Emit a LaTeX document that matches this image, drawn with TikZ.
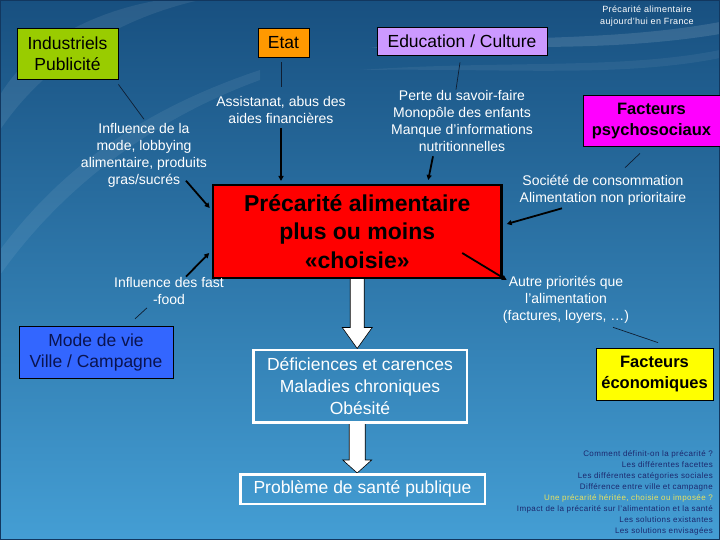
\documentclass[tikz,border=0pt]{standalone}
\usepackage{fontspec}
\setmainfont{Liberation Sans}
\usetikzlibrary{arrows.meta,calc}
\definecolor{bgtop}{RGB}{24,80,128}
\definecolor{bgmid}{RGB}{44,122,178}
\definecolor{bgbot}{RGB}{68,158,212}
\definecolor{frameclr}{RGB}{18,55,95}
\definecolor{green1}{RGB}{153,204,0}
\definecolor{orange1}{RGB}{255,153,0}
\definecolor{lav}{RGB}{204,153,255}
\definecolor{mag}{RGB}{255,0,255}
\definecolor{blue1}{RGB}{51,102,255}
\definecolor{yel1}{RGB}{255,255,0}
\definecolor{navy}{RGB}{10,20,80}
\definecolor{listnavy}{RGB}{28,40,110}
\definecolor{listyel}{RGB}{232,226,96}
\definecolor{lineclr}{RGB}{15,30,50}
\pgfdeclarelayer{back}
\pgfdeclarelayer{mid}
\pgfsetlayers{back,mid,main}
\begin{document}
\begin{tikzpicture}[x=1pt,y=-1pt,
  box/.style={draw=black,line width=0.8pt,align=center,inner sep=0pt,text=black,font=\fontsize{17.5}{21}\selectfont},
  boldbox/.style={box,font=\bfseries\fontsize{16.5}{21.5}\selectfont},
  wtext/.style={text=white,align=center,inner sep=0pt,font=\fontsize{14}{17}\selectfont},
  wbox/.style={draw=white,line width=2.5pt,align=center,inner sep=0pt,text=white,font=\fontsize{17.5}{22}\selectfont},
  thinline/.style={draw=lineclr,line width=0.7pt},
  thickarrow/.style={draw=black,line width=1.8pt,-{Triangle[length=5pt,width=5pt]}},
  blockarrow/.style={fill=white,draw=black,line width=0.6pt,line join=miter},
]
\path[use as bounding box] (0,0) rectangle (720,540);
\begin{pgfonlayer}{back}
  \shade[top color=bgtop,middle color=bgmid,bottom color=bgbot] (0,0) rectangle (720,540);
  \fill[white,opacity=0.08] (0,95) .. controls (30,45) and (90,12) .. (160,0) -- (200,0) .. controls (110,20) and (40,70) .. (0,130) -- cycle;
  \fill[white,opacity=0.07] (0,250) .. controls (60,170) and (140,110) .. (260,70) -- (260,80) .. controls (150,120) and (60,190) .. (0,275) -- cycle;
  \fill[white,opacity=0.12] (370,48) .. controls (480,34) and (600,44) .. (720,22) -- (720,34) .. controls (600,54) and (480,44) .. (370,48) -- cycle;
  \fill[white,opacity=0.06] (360,70) .. controls (500,60) and (620,70) .. (720,50) -- (720,58) .. controls (620,78) and (500,68) .. (360,70) -- cycle;
  \draw[frameclr,line width=2pt] (0,0) rectangle (720,540);
\end{pgfonlayer}

% title
\node[text=white,align=center,inner sep=0pt,font=\fontsize{9}{12.4}\selectfont\addfontfeature{LetterSpace=4}] (title) at (647,16) {Précarité alimentaire\\aujourd'hui en France};

% coloured boxes
\node[box,fill=green1,minimum width=101pt,minimum height=51pt] (indus) at (67.5,53.5) {Industriels\\Publicité};
\node[box,fill=orange1,minimum width=51pt,minimum height=29pt] (etat) at (283.5,42.5) {Etat};
\node[box,fill=lav,minimum width=170pt,minimum height=28pt] (educ) at (462,41) {Education / Culture};
\node[boldbox,fill=mag,minimum width=137pt,minimum height=51pt] (psy) at (651.5,121) {Facteurs\\psychosociaux};
\node[box,fill=blue1,text=navy,minimum width=154pt,minimum height=52pt] (modev) at (96,352) {Mode de vie\\Ville / Campagne};
\node[boldbox,fill=yel1,minimum width=117pt,minimum height=52pt] (eco) at (654.5,374) {Facteurs\\économiques};
\node[box,fill=red,line width=2.5pt,minimum width=288.5pt,minimum height=92.5pt,font=\bfseries\fontsize{23}{28.5}\selectfont] (prec) at (357.2,231.5) {Précarité alimentaire\\plus ou moins\\«choisie»};

% white boxes
\node[wbox,minimum width=213.5pt,minimum height=72.5pt] (defic) at (360,386) {Déficiences et carences\\Maladies chroniques\\Obésité};
\node[wbox,minimum width=244.5pt,minimum height=29.5pt] (prob) at (362.5,489) {Problème de santé publique};

% white texts
\node[wtext] (assist) at (281,109.5) {Assistanat, abus des\\aides financières};
\node[wtext] (mode) at (144,155.5) {Influence de la\\mode, lobbying\\alimentaire, produits\\gras/sucrés};
\node[wtext] (perte) at (462,120.5) {Perte du savoir-faire\\Monopôle des enfants\\Manque d'informations\\nutritionnelles};
\node[wtext] (societe) at (603,190) {Société de consommation\\Alimentation non prioritaire};
\node[wtext] (fast) at (169,290.5) {Influence des fast\\-food};
\node[wtext] (autre) at (566,299.5) {Autre priorités que\\l'alimentation\\(factures, loyers, …)};

% list
\node[anchor=east,align=right,inner sep=0pt,text=listnavy,font=\fontsize{8}{10.9}\selectfont\addfontfeature{LetterSpace=5}] (list) at (713,493) {Comment définit-on la précarité ?\\Les différentes facettes\\Les différentes catégories sociales\\Différence entre ville et campagne\\{\color{listyel}Une précarité héritée, choisie ou imposée ?}\\Impact de la précarité sur l'alimentation et la santé\\Les solutions existantes\\Les solutions envisagées};

% block arrows
\begin{pgfonlayer}{mid}
  \coordinate (b1top) at (prec.south);
  \coordinate (b1tip) at (prec.south |- defic.north);
  \draw[blockarrow] ($(b1top)+(-7,-2)$) -- ($(b1tip)+(-7,-21)$) -- ($(b1tip)+(-15,-21)$) -- (b1tip) -- ($(b1tip)+(15,-21)$) -- ($(b1tip)+(7,-21)$) -- ($(b1top)+(7,-2)$);
  \coordinate (b2top) at (prec.south |- defic.south);
  \coordinate (b2tip) at (prec.south |- prob.north);
  \draw[blockarrow] ($(b2top)+(-8,-2)$) -- ($(b2tip)+(-8,-13)$) -- ($(b2tip)+(-14.5,-13)$) -- (b2tip) -- ($(b2tip)+(14.5,-13)$) -- ($(b2tip)+(8,-13)$) -- ($(b2top)+(8,-2)$);
\end{pgfonlayer}

% connectors
\draw[thinline] ($(indus.south east)+(0,5)$) -- ($(mode.north)+(0,-4)$);
\draw[thinline] ($(assist.north |- etat.south)+(0,5)$) -- ($(assist.north)+(0,-9)$);
\draw[thickarrow] ($(assist.south)+(0,5)$) -- ($(assist.south |- prec.north)+(0,-3)$);
\draw[thickarrow] ($(mode.south)+(42,-7)$) -- ($(prec.north west)+(-2,24)$);
\draw[thinline] ($(educ.south)+(-2,7)$) -- ($(perte.north)+(-6,0)$);
\draw[thickarrow] ($(perte.south)+(-29,5)$) -- ($(prec.north)+(71,-4)$);
\draw[thinline] ($(psy.south)+(-11.5,6.5)$) -- ($(societe.north)+(22,-7)$);
\draw[thickarrow] ($(societe.south)+(-41,3)$) -- ($(prec.east)+(4,-7.5)$);
\draw[thickarrow] ($(prec.center)+(105,21.5)$) -- ($(prec.south east)+(4,1)$);
\draw[thinline] ($(eco.north)+(3.5,-5)$) -- ($(autre.south)+(47,4)$);
\draw[thickarrow] ($(fast.north)+(17,0)$) -- ($(prec.west)+(-2.5,21.5)$);
\draw[thinline] ($(fast.south)+(-34,14.5)$) -- ($(fast.south)+(-22,3.5)$);
\end{tikzpicture}
\end{document}
